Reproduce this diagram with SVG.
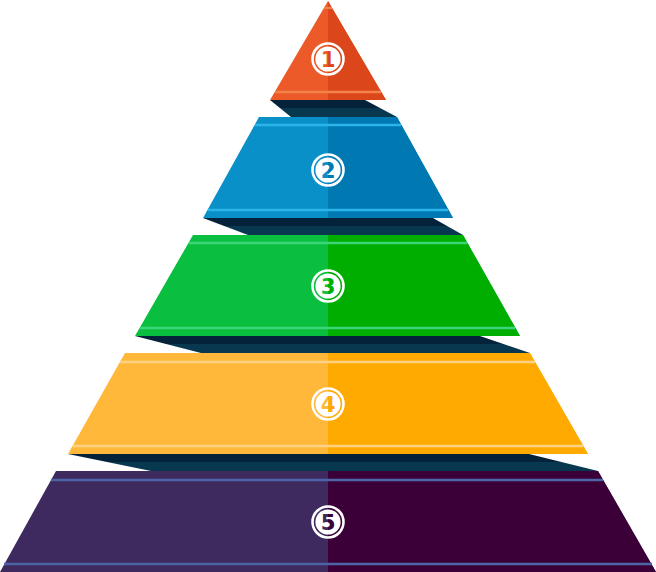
<svg xmlns="http://www.w3.org/2000/svg" width="656" height="572" viewBox="0 0 656 572">
  <defs>
    <clipPath id="R"><rect x="328" y="0" width="328" height="572"/></clipPath>
    <linearGradient id="sh" x1="0" y1="0" x2="0" y2="1">
      <stop offset="0" stop-color="#04223A"/>
      <stop offset="0.45" stop-color="#04223A"/>
      <stop offset="0.45" stop-color="#08384F"/>
      <stop offset="1" stop-color="#08384F"/>
    </linearGradient>
  </defs>
  <style>
    .ring { fill: none; stroke: #FFFFFF; stroke-width: 2.6; }
    .disk { fill: #FFFFFF; }
    .num { font-family: "DejaVu Sans", "Liberation Sans", sans-serif; font-weight: bold; font-size: 21px; text-anchor: middle; }
    .stripe { stroke-width: 2.4; }
    .shadow { fill: url(#sh); }
  </style>

  <g id="connectors">
    <polygon class="shadow" points="270,100 365,100 397,117 291,117"/>
    <polygon class="shadow" points="203,218 433,218 463,235 248,235"/>
    <polygon class="shadow" points="135,336 480,336 530,353 201,353"/>
    <polygon class="shadow" points="68,454 529,454 598,471 151,471"/>
  </g>

  <g id="tier1">
    <polygon points="328,1 386,100 270,100" fill="#EC5A2A"/>
    <g clip-path="url(#R)">
      <polygon points="328,1 386,100 270,100" fill="#DC461B"/>
    </g>
    <line class="stripe" x1="324" y1="8" x2="332" y2="8" stroke="#F4834A"/>
    <line class="stripe" x1="275" y1="92" x2="381" y2="92" stroke="#F4834A"/>
    <circle class="ring" cx="328" cy="59" r="15.5"/>
    <circle class="disk" cx="328" cy="59" r="12.6"/>
    <text class="num" x="328" y="66.5" fill="#EC5A2A">1</text>
    <text class="num" x="328" y="66.5" fill="#DC461B" clip-path="url(#R)">1</text>
  </g>

  <g id="tier2">
    <polygon points="259,117 397,117 453,218 203,218" fill="#0A90C8"/>
    <g clip-path="url(#R)">
      <polygon points="259,117 397,117 453,218 203,218" fill="#0078B2"/>
    </g>
    <line class="stripe" x1="255" y1="125" x2="401" y2="125" stroke="#2AB4E8"/>
    <line class="stripe" x1="208" y1="210" x2="448" y2="210" stroke="#2AB4E8"/>
    <circle class="ring" cx="328" cy="170" r="15.5"/>
    <circle class="disk" cx="328" cy="170" r="12.6"/>
    <text class="num" x="328" y="177.5" fill="#0A90C8">2</text>
    <text class="num" x="328" y="177.5" fill="#0078B2" clip-path="url(#R)">2</text>
  </g>

  <g id="tier3">
    <polygon points="193,235 463,235 520,336 135,336" fill="#0ABE40"/>
    <g clip-path="url(#R)">
      <polygon points="193,235 463,235 520,336 135,336" fill="#00AE00"/>
    </g>
    <line class="stripe" x1="189" y1="243" x2="467" y2="243" stroke="#3CD67A"/>
    <line class="stripe" x1="140" y1="328" x2="515" y2="328" stroke="#3CD67A"/>
    <circle class="ring" cx="328" cy="286" r="15.5"/>
    <circle class="disk" cx="328" cy="286" r="12.6"/>
    <text class="num" x="328" y="293.5" fill="#0ABE40">3</text>
    <text class="num" x="328" y="293.5" fill="#00AE00" clip-path="url(#R)">3</text>
  </g>

  <g id="tier4">
    <polygon points="125,353 530,353 588,454 68,454" fill="#FFB83A"/>
    <g clip-path="url(#R)">
      <polygon points="125,353 530,353 588,454 68,454" fill="#FFAA00"/>
    </g>
    <line class="stripe" x1="120" y1="362" x2="535" y2="362" stroke="#FFD183"/>
    <line class="stripe" x1="73" y1="446" x2="583" y2="446" stroke="#FFD183"/>
    <circle class="ring" cx="328" cy="404" r="15.5"/>
    <circle class="disk" cx="328" cy="404" r="12.6"/>
    <text class="num" x="328" y="411.5" fill="#FFB83A">4</text>
    <text class="num" x="328" y="411.5" fill="#FFAA00" clip-path="url(#R)">4</text>
  </g>

  <g id="tier5">
    <polygon points="56,471 598,471 656,572 0,572" fill="#3E2A5E"/>
    <g clip-path="url(#R)">
      <polygon points="56,471 598,471 656,572 0,572" fill="#3A0037"/>
    </g>
    <line class="stripe" x1="51" y1="480" x2="603" y2="480" stroke="#4D65A6"/>
    <line class="stripe" x1="4" y1="564" x2="652" y2="564" stroke="#4D65A6"/>
    <circle class="ring" cx="328" cy="522" r="15.5"/>
    <circle class="disk" cx="328" cy="522" r="12.6"/>
    <text class="num" x="328" y="529.5" fill="#3E2A5E">5</text>
    <text class="num" x="328" y="529.5" fill="#3A0037" clip-path="url(#R)">5</text>
  </g>
</svg>
